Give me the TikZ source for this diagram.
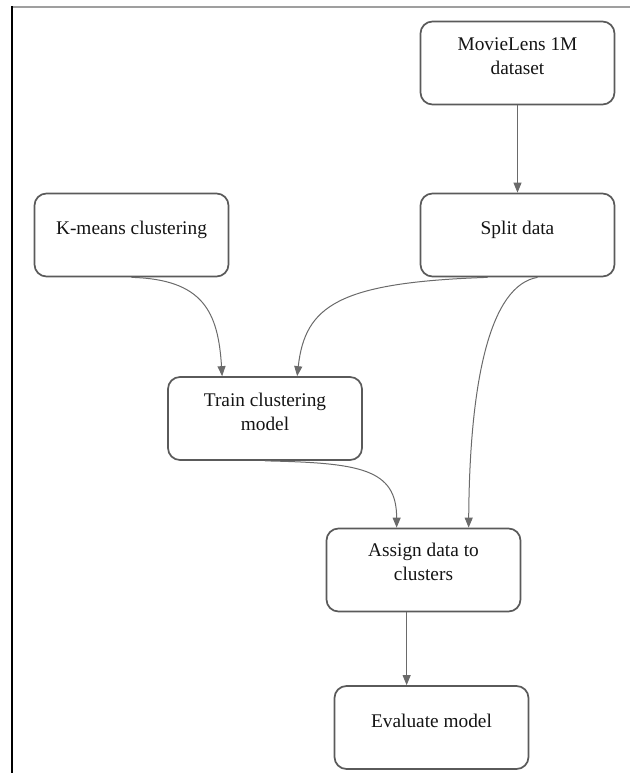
\documentclass[tikz,border=0pt]{standalone}
\usepackage{fontspec}
\setmainfont{Liberation Serif}
\newfontfamily\stepfont{Liberation Serif}
\usetikzlibrary{arrows.meta,calc}

\definecolor{boxgray}{HTML}{5A5A5A}
\definecolor{linkgray}{HTML}{6A6A6A}

\tikzset{
  stepbox/.style={draw=boxgray, line width=1.3pt, rounded corners=9pt,
    minimum width=145.5pt, minimum height=62.25pt, inner sep=0pt},
  steplabel/.style={font=\stepfont\fontsize{14.5pt}{18pt}\selectfont, align=center,
    anchor=base, inner sep=0pt, text=black!92},
  link/.style={draw=linkgray, line width=0.75pt, -{Triangle[length=7.5pt,width=6pt]}},
}

\begin{document}
\begin{tikzpicture}[x=0.75pt, y=-0.75pt]
  \useasboundingbox (0,0) rectangle (630,773);
  % page frame
  \draw[gray!75, line width=1.5pt] (11,7) -- (630,7);
  \draw[black, line width=1.5pt] (11.5,6.3) -- (11.5,773);

  % steps
  \node[stepbox] (movie) at (517.5,63) {};
  \node[stepbox] (split) at (517.5,235) {};
  \node[stepbox] (kmeans) at (131.5,235) {};
  \node[stepbox] (train) at (265,418.5) {};
  \node[stepbox] (assign) at (423.5,570) {};
  \node[stepbox] (evaluate) at (431.5,727.5) {};

  % texts (base = last line)
  \node[steplabel] (movietxt) at ($(movie.north)+(0,54)$) {MovieLens 1M\\dataset};
  \node[steplabel] (splittxt) at ($(split.north)+(0,42)$) {Split data};
  \node[steplabel] (kmeanstxt) at ($(kmeans.north)+(0,42)$) {K-means clustering};
  \node[steplabel] (traintxt) at ($(train.north)+(0,54)$) {Train clustering\\model};
  \node[steplabel] (assigntxt) at ($(assign.north)+(0,53)$) {Assign data to\\clusters};
  \node[steplabel] (evaluatetxt) at ($(evaluate.north)+(0,42)$) {Evaluate model};

  % flow
  \draw[link] (movie.south) -- (split.north);
  \draw[link] (kmeans.south) .. controls +(72,2) and +(-4,-64) .. ($(train.north west)+(55,0)$);
  \draw[link] ($(split.south)+(-30,0)$) .. controls +(-150,5) and +(8,-70) .. ($(train.north west)+(130,0)$);
  \draw[link] ($(split.south)+(20,0)$) .. controls +(-47,8) and +(1,-149) .. ($(assign.north west)+(143,0)$);
  \draw[link] (train.south) .. controls +(95,2) and +(0,-59) .. ($(assign.north west)+(71,0)$);
  \draw[link] ($(assign.south west)+(81,0)$) -- ($(evaluate.north west)+(73,0)$);
\end{tikzpicture}
\end{document}
